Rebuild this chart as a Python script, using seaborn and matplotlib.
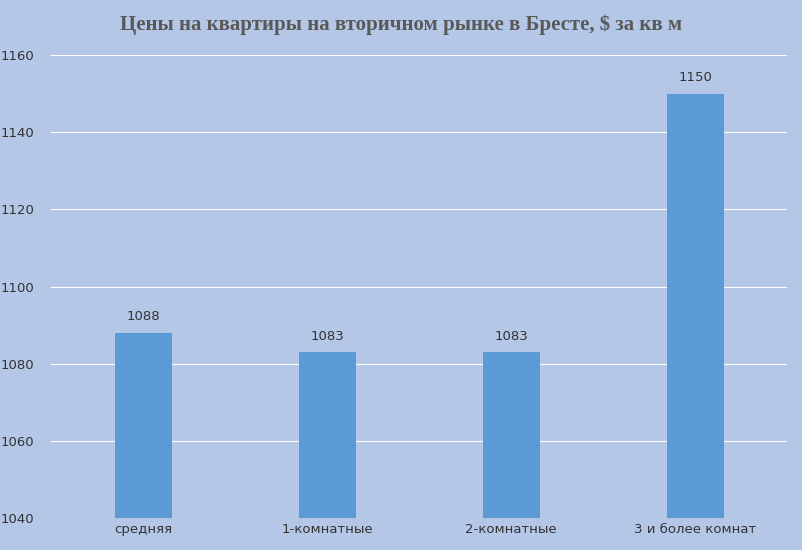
import matplotlib
matplotlib.use("Agg")
import matplotlib.pyplot as plt
import seaborn as sns
import pandas as pd

categories = ["средняя", "1-комнатные", "2-комнатные", "3 и более комнат"]
values = [1088, 1083, 1083, 1150]
yticks = [1040, 1060, 1080, 1100, 1120, 1140, 1160]
title = "Цены на квартиры на вторичном рынке в Бресте, $ за кв м"

bg = "#B4C7E7"
df = pd.DataFrame({"cat": categories, "val": values})
fig = plt.figure(figsize=(8.03, 5.5), dpi=100, facecolor=bg)
ax = fig.add_axes([0.0635, 0.058, 0.917, 0.842], facecolor=bg)
sns.barplot(data=df, x="cat", y="val", color="#5B9BD5", saturation=1, width=0.31, ax=ax, zorder=3)
ax.set_ylim(1040, 1160)
ax.set_yticks(yticks)
ax.grid(axis="y", color="white", linewidth=0.8, zorder=0)
for s in ax.spines.values():
    s.set_visible(False)
ax.tick_params(length=0, labelsize=9.5, colors="#333333")
ax.tick_params(axis="y", pad=12)
ax.set_xlabel(""); ax.set_ylabel("")
for i, v in enumerate(values):
    ax.text(i, v + 2.5, str(v), ha="center", va="bottom", fontsize=9.5, color="#333333")
fig.text(0.5, 0.955, title, ha="center", va="center", fontsize=15, fontweight="bold",
         family="Liberation Serif", color="#595959")
fig.savefig("out.png", dpi=100, facecolor=bg)
